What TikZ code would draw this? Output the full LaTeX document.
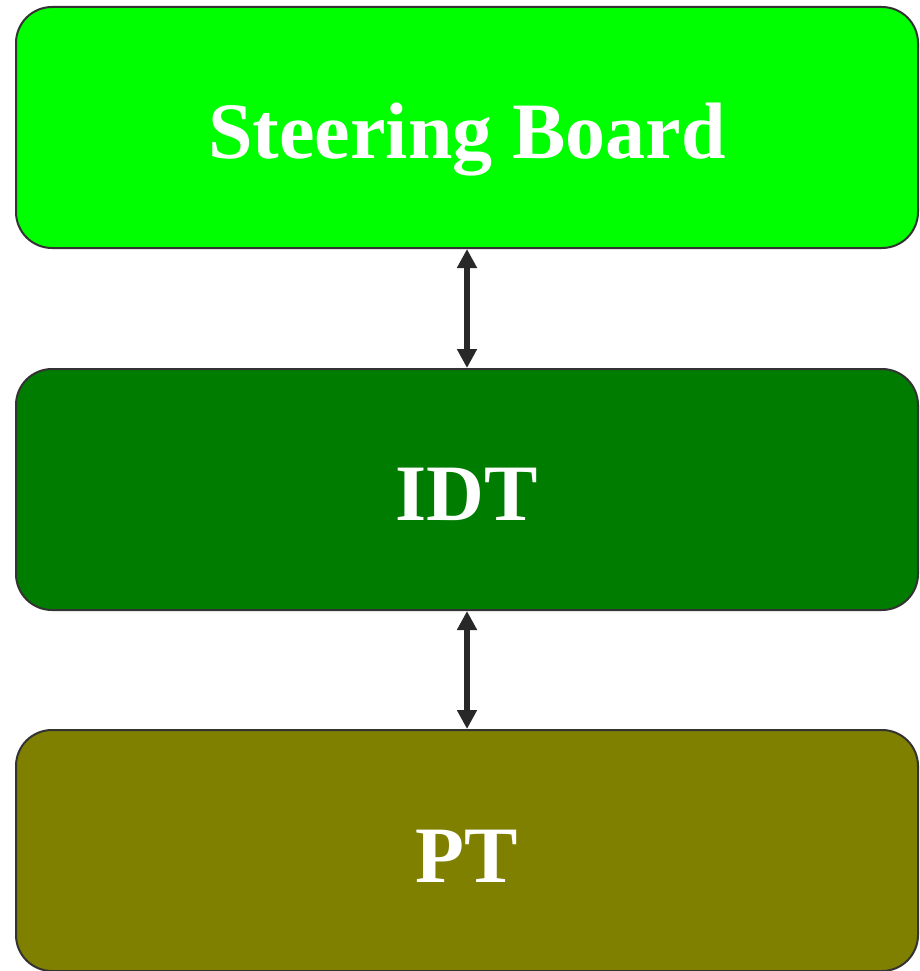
\documentclass[tikz,border=0pt]{standalone}
\usepackage{fontspec}
\setmainfont{Liberation Serif}
\usetikzlibrary{arrows.meta}
\definecolor{cTop}{RGB}{0,255,0}
\definecolor{cMid}{RGB}{0,125,0}
\definecolor{cBot}{RGB}{128,128,0}
\definecolor{cLine}{RGB}{51,51,51}
\definecolor{cArrow}{RGB}{40,40,40}
\begin{document}
\begin{tikzpicture}[x=1pt,y=-1pt,
  layerbox/.style={draw=cLine, line width=2pt, rounded corners=36pt,
    minimum width=902pt, minimum height=241pt, inner sep=0pt},
  layertext/.style={text=white, font=\fontsize{80}{96}\selectfont\bfseries, anchor=base, inner sep=0pt},
  link/.style={draw=cArrow, line width=6pt, {Triangle[length=19pt,width=19pt]}-{Triangle[length=19pt,width=19pt]}}]
\useasboundingbox (0,0) rectangle (919,971);
\node[layerbox, fill=cTop] (sb) at (467,127.5) {};
\node[layerbox, fill=cMid] (idt) at (467,489.5) {};
\node[layerbox, fill=cBot] (pt) at (467,850.5) {};
\node[layertext] (sbt) at (467,158) {Steering Board};
\node[layertext] (idtt) at (467,520) {IDT};
\node[layertext] (ptt) at (467,882) {PT};
\draw[link] (sb.south) -- (idt.north);
\draw[link] (idt.south) -- (pt.north);
\end{tikzpicture}
\end{document}
